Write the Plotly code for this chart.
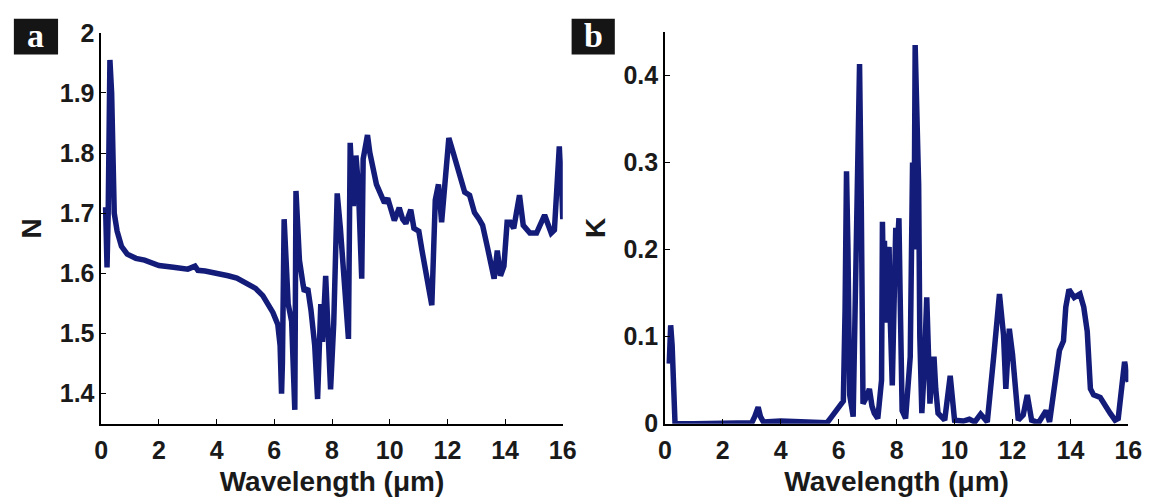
import plotly.graph_objects as go

# ---- data ----
wl_n = [0.15, 0.20, 0.24, 0.30, 0.36, 0.40, 0.45, 0.55, 0.70, 0.90, 1.2, 1.5, 2.0, 2.5, 3.0,
        3.25, 3.35, 3.6, 4.0, 4.4, 4.7, 5.0, 5.35, 5.6, 5.8, 5.95, 6.12, 6.2, 6.25, 6.28, 6.34,
        6.42, 6.48, 6.6, 6.71, 6.75, 6.87, 7.0, 7.04, 7.16, 7.27, 7.4, 7.5, 7.61, 7.67, 7.78,
        7.87, 7.95, 8.06, 8.18, 8.29, 8.45, 8.57, 8.63, 8.74, 8.83, 8.91, 9.03, 9.08, 9.23,
        9.31, 9.54, 9.7, 9.82, 9.93, 10.16, 10.33, 10.45, 10.56, 10.73, 10.84, 11.01, 11.12,
        11.3, 11.46, 11.58, 11.69, 11.8, 11.92, 12.05, 12.2, 12.37, 12.6, 12.77, 12.94, 13.1,
        13.22, 13.39, 13.62, 13.73, 13.84, 13.96, 14.07, 14.18, 14.3, 14.5, 14.63, 14.86,
        15.09, 15.37, 15.6, 15.71, 15.88, 15.96, 16.0]
n_vals = [1.71, 1.61, 1.70, 1.955, 1.90, 1.75, 1.70, 1.67, 1.645, 1.632, 1.625, 1.622, 1.613,
          1.61, 1.607, 1.612, 1.605, 1.604, 1.601, 1.596, 1.592, 1.585, 1.575, 1.563, 1.549,
          1.535, 1.515, 1.48, 1.40, 1.45, 1.69, 1.60, 1.549, 1.52, 1.373, 1.737, 1.622, 1.58,
          1.57, 1.575, 1.539, 1.48, 1.391, 1.549, 1.486, 1.596, 1.50, 1.407, 1.517, 1.733,
          1.675, 1.56, 1.491, 1.817, 1.712, 1.796, 1.748, 1.591, 1.79, 1.83, 1.801, 1.748,
          1.73, 1.717, 1.725, 1.688, 1.709, 1.69, 1.683, 1.706, 1.675, 1.67, 1.638, 1.59,
          1.547, 1.722, 1.748, 1.685, 1.759, 1.825, 1.801, 1.77, 1.735, 1.73, 1.701, 1.69,
          1.68, 1.643, 1.591, 1.638, 1.596, 1.612, 1.685, 1.685, 1.675, 1.73, 1.68, 1.667,
          1.667, 1.697, 1.667, 1.672, 1.811, 1.748, 1.69]

wl_k = [0.15, 0.20, 0.25, 0.30, 0.35, 1.0, 2.0, 3.0, 3.1, 3.22, 3.3, 3.4, 4.0, 4.5, 5.0, 5.6,
        5.76, 5.99, 6.16, 6.22, 6.27, 6.32, 6.38, 6.5, 6.68, 6.72, 6.78, 6.84, 6.95, 7.06,
        7.15, 7.23, 7.35, 7.48, 7.51, 7.55, 7.58, 7.63, 7.68, 7.74, 7.78, 7.85, 7.9, 7.97,
        8.02, 8.08, 8.12, 8.19, 8.31, 8.47, 8.55, 8.6, 8.64, 8.7, 8.76, 8.8, 8.87, 8.95, 9.04,
        9.1, 9.15, 9.22, 9.29, 9.35, 9.43, 9.66, 9.85, 10.0, 10.3, 10.51, 10.7, 10.9, 11.13,
        11.36, 11.55, 11.69, 11.77, 11.89, 12.0, 12.2, 12.37, 12.51, 12.66, 12.9, 13.16,
        13.28, 13.45, 13.62, 13.76, 13.84, 13.95, 14.13, 14.33, 14.46, 14.58, 14.69, 14.8,
        15.03, 15.37, 15.54, 15.65, 15.76, 15.87, 15.96, 16.0]
k_vals = [0.069, 0.113, 0.09, 0.01, 0.0, 0.0, 0.0, 0.001, 0.008, 0.019, 0.008, 0.002, 0.003,
          0.002, 0.001, 0.001, 0.008, 0.019, 0.026, 0.13, 0.29, 0.2, 0.033, 0.008, 0.3,
          0.413, 0.25, 0.023, 0.03, 0.04, 0.02, 0.012, 0.006, 0.05, 0.232, 0.15, 0.21, 0.116,
          0.19, 0.203, 0.12, 0.044, 0.12, 0.225, 0.2, 0.236, 0.15, 0.015, 0.006, 0.077, 0.3,
          0.2, 0.435, 0.35, 0.275, 0.1, 0.012, 0.06, 0.145, 0.08, 0.023, 0.06, 0.077, 0.04,
          0.012, 0.004, 0.055, 0.004, 0.003, 0.005, 0.002, 0.011, 0.002, 0.08, 0.149, 0.102,
          0.04, 0.109, 0.08, 0.004, 0.01, 0.033, 0.004, 0.001, 0.015, 0.002, 0.044, 0.084,
          0.095, 0.134, 0.154, 0.145, 0.149, 0.134, 0.106, 0.04, 0.033, 0.03, 0.012, 0.004,
          0.006, 0.044, 0.071, 0.055, 0.048]

x_ticks = [0, 2, 4, 6, 8, 10, 12, 14, 16]
n_ticks = [1.4, 1.5, 1.6, 1.7, 1.8, 1.9, 2.0]
n_tick_text = ["1.4", "1.5", "1.6", "1.7", "1.8", "1.9", "2"]
k_ticks = [0, 0.1, 0.2, 0.3, 0.4]
k_tick_text = ["0", "0.1", "0.2", "0.3", "0.4"]
panel_labels = ["a", "b"]

LINE = "#141c7a"
W, H = 1162, 499
FONT = "Liberation Sans"

fig = go.Figure()
fig.add_trace(go.Scatter(x=wl_n, y=n_vals, mode="lines", line=dict(color=LINE, width=5.5),
                         xaxis="x", yaxis="y", showlegend=False))
fig.add_trace(go.Scatter(x=wl_k, y=k_vals, mode="lines", line=dict(color=LINE, width=5.5),
                         xaxis="x2", yaxis="y2", showlegend=False))

def px(x):
    return x / W

def py(y):
    return 1 - y / H

tick_font = dict(family=FONT, size=25, color="#1a1a1a", weight="bold")
title_font = dict(family=FONT, size=28, color="#1a1a1a", weight="bold")
common_axis = dict(showline=True, linecolor="black", linewidth=1.5, ticks="inside",
                   ticklen=5, tickcolor="black", showgrid=False, zeroline=False,
                   tickfont=tick_font, mirror=False)

fig.update_layout(
    width=W, height=H, margin=dict(l=0, r=0, t=0, b=0),
    paper_bgcolor="white", plot_bgcolor="white",
    xaxis=dict(domain=[px(96), px(566)], range=[0, 16], tickvals=x_ticks,
               ticklabelstandoff=4,
               title=dict(text="Wavelength (μm)", font=title_font, standoff=8),
               anchor="y", **common_axis),
    yaxis=dict(domain=[py(434), py(20)], range=[1.35, 2.0], tickvals=n_ticks,
               ticktext=n_tick_text,
               title=dict(text="N", font=title_font, standoff=10),
               anchor="x", **common_axis),
    xaxis2=dict(domain=[px(670), px(1142)], range=[0, 16], tickvals=x_ticks,
                ticklabelstandoff=4,
                title=dict(text="Wavelength (μm)", font=title_font, standoff=8),
                anchor="y2", **common_axis),
    yaxis2=dict(domain=[py(434), py(19)], range=[0, 0.45], tickvals=k_ticks,
                ticktext=k_tick_text,
                title=dict(text="K", font=title_font, standoff=10),
                anchor="x2", **common_axis),
)

boxes = [(7, 52), (575, 619)]
for lab, (x0, x1) in zip(panel_labels, boxes):
    fig.add_shape(type="rect", xref="paper", yref="paper",
                  x0=px(x0), x1=px(x1), y0=py(43), y1=py(5),
                  fillcolor="#151515", line=dict(width=0))
    fig.add_annotation(xref="paper", yref="paper", x=px((x0 + x1) / 2), y=py(23),
                       text="<b>%s</b>" % lab, showarrow=False,
                       font=dict(family="Liberation Serif", size=34, color="white"),
                       xanchor="center", yanchor="middle")

fig.write_html("out.html")
